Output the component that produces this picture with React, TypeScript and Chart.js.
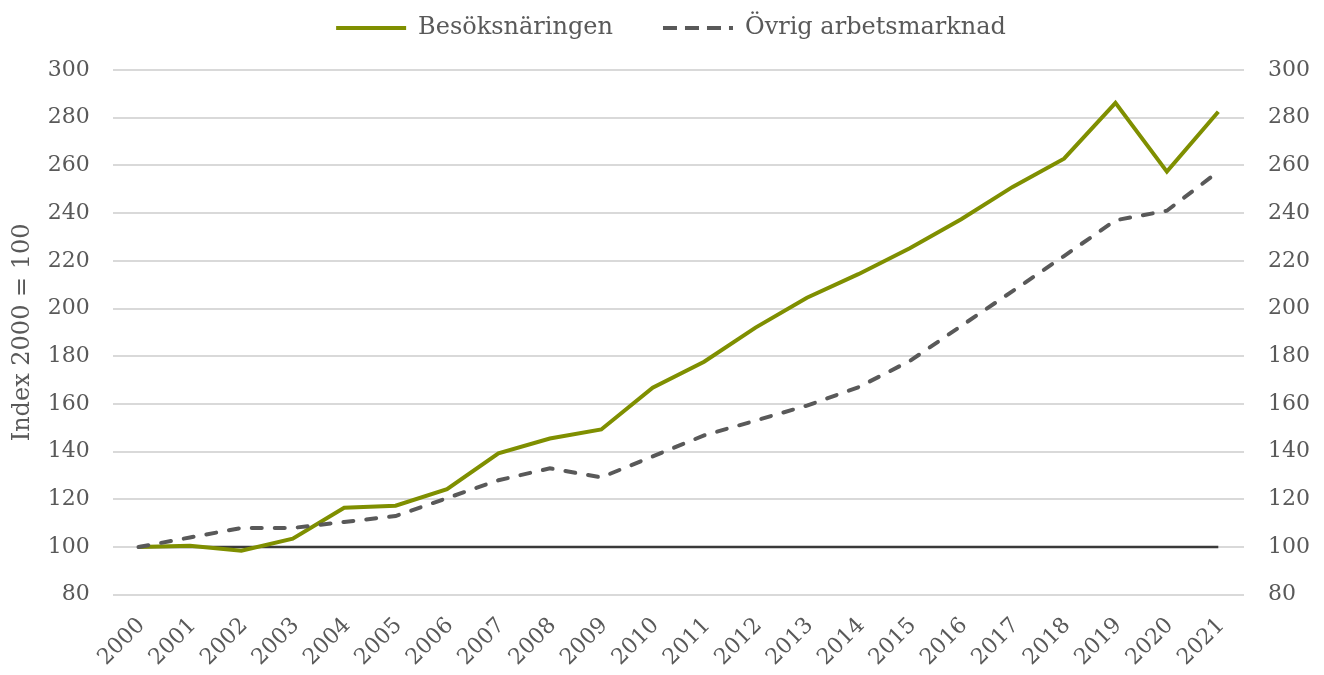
import React, { useEffect, useRef } from "react";
import { Chart, registerables } from "chart.js";

Chart.register(...registerables);

const years = ["2000","2001","2002","2003","2004","2005","2006","2007","2008","2009","2010","2011","2012","2013","2014","2015","2016","2017","2018","2019","2020","2021"];
const besoksnaringen = [100, 100.5, 98.5, 103.5, 116.5, 117.3, 124.3, 139.3, 145.5, 149.3, 166.8, 177.7, 192, 204.5, 214.4, 225.3, 237.4, 251, 262.8, 286.2, 257.4, 282.5];
const ovrigArbetsmarknad = [100, 104, 108, 108, 110.5, 113, 120.5, 128, 133, 129.2, 138, 146.8, 153, 159.3, 167, 178, 192.7, 207.3, 222, 237, 241, 257.4];
const baseLine = [100, 100, 100, 100, 100, 100, 100, 100, 100, 100, 100, 100, 100, 100, 100, 100, 100, 100, 100, 100, 100, 100];
const seriesNames = ["Besöksnäringen", "Övrig arbetsmarknad"];
const yAxisTitle = "Index 2000 = 100";

const FONT = "'DejaVu Serif', serif";
const TEXT = "#595959";

const legendSpace = {
  id: "legendSpace",
  beforeInit(chart: any) {
    const legend = chart.legend;
    if (!legend) return;
    const origFit = legend.fit;
    legend.fit = function () {
      origFit.call(this);
      this.height += 20;
    };
  },
};

export default function App() {
  const ref = useRef<HTMLCanvasElement>(null);
  useEffect(() => {
    if (!ref.current) return;
    const chart = new Chart(ref.current, {
      type: "line",
      plugins: [legendSpace],
      data: {
        labels: years,
        datasets: [
          {
            label: seriesNames[1],
            data: ovrigArbetsmarknad,
            borderColor: "#595959",
            backgroundColor: "#595959",
            borderWidth: 4,
            borderDash: [10, 13],
            borderCapStyle: "round",
            pointRadius: 0,
            tension: 0,
          },
          {
            label: seriesNames[0],
            data: besoksnaringen,
            borderColor: "#7f8f00",
            backgroundColor: "#7f8f00",
            borderWidth: 4,
            pointRadius: 0,
            tension: 0,
          },
          {
            label: "base",
            data: baseLine,
            borderColor: "#3a3a3a",
            backgroundColor: "#3a3a3a",
            borderWidth: 2.5,
            pointRadius: 0,
          },
        ],
      },
      options: {
        animation: false,
        responsive: true,
        maintainAspectRatio: false,
        layout: { padding: { left: 8, right: -10, top: -34, bottom: -6 } },
        plugins: {
          tooltip: { enabled: false },
          legend: {
            position: "top",
            labels: {
              filter: (item) => item.text !== "base",
              sort: (a, b) => b.datasetIndex - a.datasetIndex,
              generateLabels: (c: any) => {
                const items = Chart.defaults.plugins.legend.labels.generateLabels(c);
                return items.map((it: any) => {
                  const ds: any = c.data.datasets[it.datasetIndex];
                  return {
                    ...it,
                    lineDash: ds.borderDash ? [14, 8] : [],
                    lineCap: "butt",
                    lineWidth: ds.borderWidth,
                    strokeStyle: ds.borderColor,
                  };
                });
              },
              usePointStyle: true,
              pointStyle: "line",
              pointStyleWidth: 70,
              boxWidth: 70,
              padding: 50,
              color: TEXT,
              font: { family: FONT, size: 24 },
            },
          },
        },
        scales: {
          x: {
            offset: true,
            grid: { display: false },
            border: { display: false },
            ticks: {
              color: TEXT,
              font: { family: FONT, size: 22 },
              minRotation: 45,
              maxRotation: 45,
              padding: 10,
              labelOffset: 3,
            },
          },
          y: {
            position: "left",
            min: 80,
            max: 300,
            ticks: {
              stepSize: 20,
              color: TEXT,
              font: { family: FONT, size: 22 },
              padding: 23,
            },
            grid: { color: "#d9d9d9", lineWidth: 2, drawTicks: false },
            border: { display: false },
            title: {
              display: true,
              text: yAxisTitle,
              color: TEXT,
              font: { family: FONT, size: 24 },
              padding: { top: 0, bottom: -12 },
            },
          },
          y1: {
            position: "right",
            min: 80,
            max: 300,
            ticks: {
              stepSize: 20,
              color: TEXT,
              font: { family: FONT, size: 22 },
              padding: 24,
            },
            grid: { display: false, drawTicks: false },
            border: { display: false },
          },
        },
      },
    });
    return () => chart.destroy();
  }, []);
  return (
    <div style={{ position: "fixed", left: 0, top: 0, width: 1324, height: 675, background: "#fff" }}>
      <canvas ref={ref} />
    </div>
  );
}
